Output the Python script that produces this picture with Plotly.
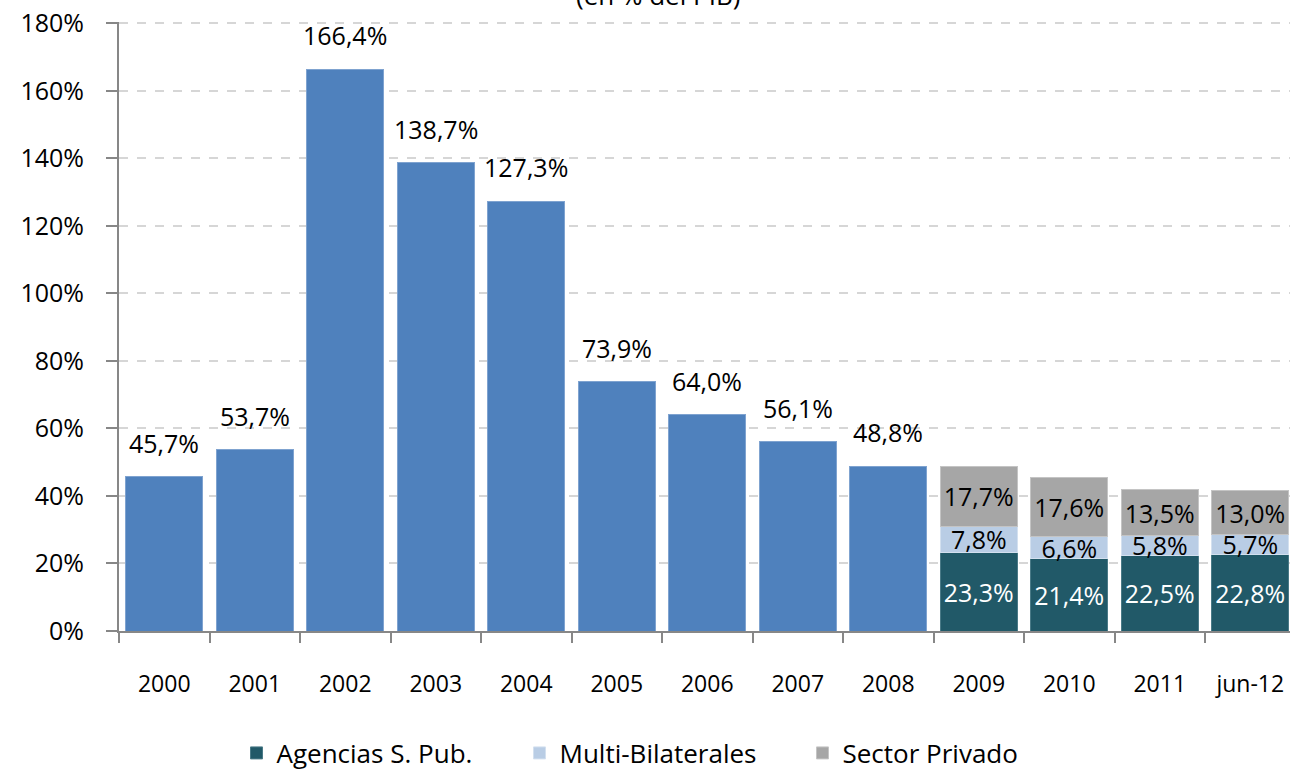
import plotly.graph_objects as go

# Categories and values (% del PIB)
categorias = ["2000", "2001", "2002", "2003", "2004", "2005", "2006",
              "2007", "2008", "2009", "2010", "2011", "jun-12"]

total_anios = ["2000", "2001", "2002", "2003", "2004", "2005", "2006", "2007", "2008"]
total_valores = [45.7, 53.7, 166.4, 138.7, 127.3, 73.9, 64.0, 56.1, 48.8]

desglose_anios = ["2009", "2010", "2011", "jun-12"]
agencias = [23.3, 21.4, 22.5, 22.8]
multi_bilaterales = [7.8, 6.6, 5.8, 5.7]
sector_privado = [17.7, 17.6, 13.5, 13.0]

y_ticks = [0, 20, 40, 60, 80, 100, 120, 140, 160, 180]
y_tick_labels = [f"{v}%" for v in y_ticks]

FONT = "Open Sans"
AXIS_GRAY = "#878787"
LABEL_SIZE = 25


def stacked_trace(x, y, name, color, edge, text_color):
    return go.Bar(
        x=x, y=y, name=name,
        marker=dict(color=color, line=dict(color=edge, width=1)),
        texttemplate="%{y:.1f}%", textposition="inside",
        insidetextanchor="middle", textangle=0, constraintext="none",
        textfont=dict(color=text_color, size=LABEL_SIZE, family=FONT),
    )


fig = go.Figure()

fig.add_trace(go.Bar(
    x=total_anios, y=total_valores, name="Total",
    marker=dict(color="#4F81BD", line=dict(color="#7FA3D0", width=1)),
    showlegend=False, hoverinfo="x+y",
))
fig.add_trace(stacked_trace(desglose_anios, agencias, "Agencias S. Pub.",
                            "#215968", "#4A7A87", "white"))
fig.add_trace(stacked_trace(desglose_anios, multi_bilaterales, "Multi-Bilaterales",
                            "#B9CDE5", "#D3E0EF", "black"))
fig.add_trace(stacked_trace(desglose_anios, sector_privado, "Sector Privado",
                            "#A6A6A6", "#C4C4C4", "black"))

# Value labels above the single-value bars (x given as category index)
annotations = []
for cat, val in zip(total_anios, total_valores):
    annotations.append(dict(
        x=categorias.index(cat), y=val, xref="x", yref="y",
        text=f"{val:.1f}%".replace(".", ","),
        showarrow=False, yanchor="middle", yshift=34,
        font=dict(size=LABEL_SIZE, family=FONT, color="black"),
    ))

# Subtitle (partly above the visible area)
annotations.append(dict(
    x=(658 - 119) / (1290 - 119), xref="paper", y=1.012, yref="paper",
    text="(en % del PIB)", showarrow=False, yanchor="bottom",
    font=dict(size=26, family=FONT, color="black"),
))

fig.update_layout(
    width=1290, height=772,
    margin=dict(l=119, r=0, t=22, b=141, autoexpand=False),
    paper_bgcolor="white", plot_bgcolor="white",
    barmode="stack", bargap=0.15,
    separators=",.",
    uniformtext=dict(minsize=LABEL_SIZE, mode="show"),
    font=dict(family=FONT, color="black"),
    annotations=annotations,
    legend=dict(
        orientation="h", x=(661 - 119) / (1290 - 119), xanchor="center",
        yref="container", y=(772 - 753) / 772, yanchor="middle",
        font=dict(size=26, family=FONT, color="black"),
        itemwidth=30, entrywidth=238, traceorder="normal",
    ),
    xaxis=dict(
        type="category",
        categoryorder="array", categoryarray=categorias,
        range=[-0.5, -0.5 + (1290 - 119) / 90.5],
        showline=True, linecolor=AXIS_GRAY, linewidth=2,
        ticks="outside", tickson="boundaries", ticklen=10, tickwidth=2,
        tickcolor=AXIS_GRAY,
        tickfont=dict(size=23, family=FONT, color="black"),
        ticklabelstandoff=31,
        showgrid=False, automargin=False,
    ),
    yaxis=dict(
        range=[0, 180.4], tickvals=y_ticks, ticktext=y_tick_labels,
        showline=True, linecolor=AXIS_GRAY, linewidth=2,
        ticks="outside", ticklen=11, tickwidth=2, tickcolor=AXIS_GRAY,
        tickfont=dict(size=25, family=FONT, color="black"),
        ticklabelstandoff=17,
        showgrid=True, gridcolor="#D6D6D6", gridwidth=1.5, griddash="dash",
        zeroline=False, automargin=False,
    ),
)

fig.write_html("out.html")
